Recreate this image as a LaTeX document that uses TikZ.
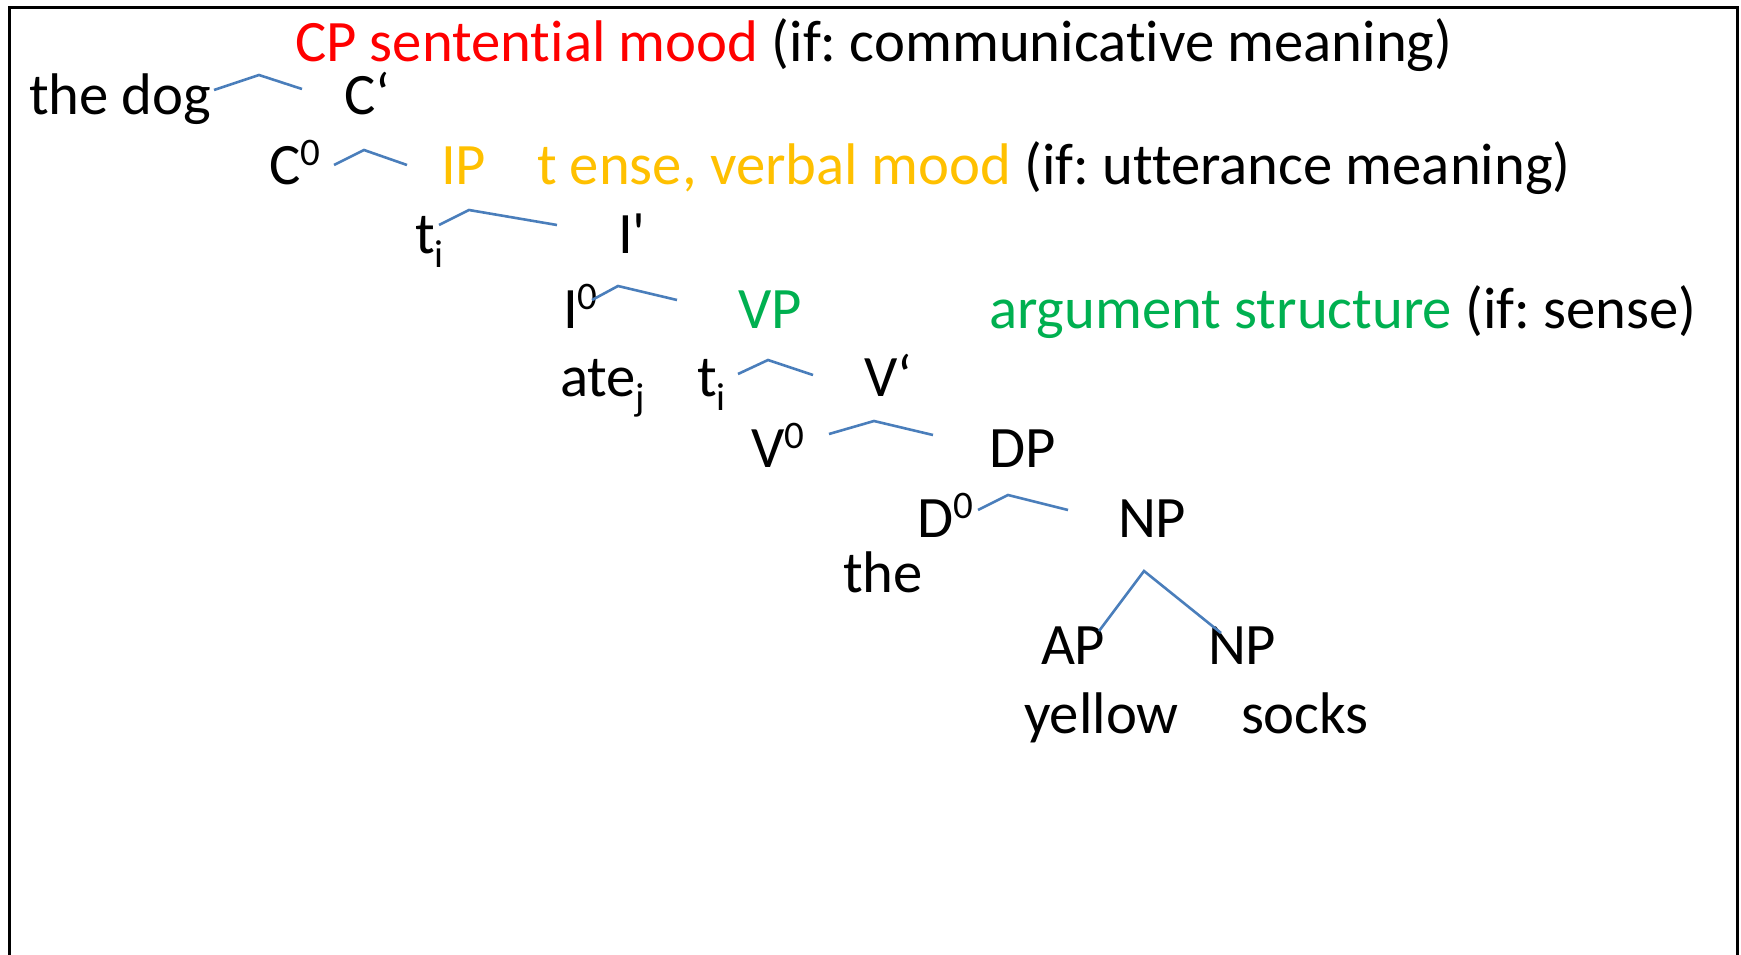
\documentclass[tikz,border=0pt]{standalone}
\usepackage{fontspec}
\setmainfont{Carlito}[Ligatures={NoCommon,TeXOff}]
\frenchspacing
\definecolor{cpred}{HTML}{FF0000}
\definecolor{iporange}{HTML}{FFC000}
\definecolor{vpgreen}{HTML}{00B050}
\definecolor{branch}{HTML}{4A7EBB}
\newcommand\supz[1]{\raisebox{19pt}{\fontsize{39}{39}\selectfont #1}}
\newcommand\subz[1]{\raisebox{-14pt}{\fontsize{39}{39}\selectfont #1}}
\begin{document}
\begin{tikzpicture}[x=1pt,y=-1pt,
  lbl/.style={anchor=base west,inner sep=0pt,outer sep=0pt,font=\fontsize{58.7}{68}\selectfont},
  br/.style={draw=branch,line width=2.6pt}]
\useasboundingbox (0,0) rectangle (1741,954);
\draw[line width=3pt] (9,1000) -- (9,7) -- (1737,7) -- (1737,1000);
% row 1
\node[lbl] (cp) at (295,61) {{\color{cpred}CP sentential mood} (if: communicative meaning)};
% row 2
\node[lbl] (dog) at (29,114) {the dog};
\node[lbl,text height=38pt] (cbar) at (344,114) {C‘};
% row 3
\node[lbl] (c0) at (269,184) {C\supz{0}};
\node[lbl] (ip) at (441,184) {\color{iporange}IP};
\node[lbl] (ipdesc) at (537,184) {{\color{iporange}t ense, verbal mood} (if: utterance meaning)};
% row 4
\node[lbl] (ti1) at (415,253) {t\subz{i}};
\node[lbl] (ibar) at (618,253) {I'};
% row 5
\node[lbl] (i0) at (563,328) {I\supz{0}};
\node[lbl] (vp) at (738,328) {\color{vpgreen}VP};
\node[lbl] (vpdesc) at (989,328) {{\color{vpgreen}argument structure} (if: sense)};
% row 6
\node[lbl] (ate) at (560,396) {ate\subz{j}};
\node[lbl] (ti2) at (697,396) {t\subz{i}};
\node[lbl] (vbar) at (864,396) {V‘};
% row 7
\node[lbl] (v0) at (751,467) {V\supz{0}};
\node[lbl] (dp) at (989,467) {DP};
% row 8
\node[lbl] (d0) at (917,537) {D\supz{0}};
\node[lbl] (np) at (1118,537) {NP};
% row 9
\node[lbl] (the) at (843,592) {the};
% row 10
\node[lbl] (ap) at (1041,664) {AP};
\node[lbl] (np2) at (1208,664) {NP};
% row 11
\node[lbl] (yellow) at (1024,733) {yellow};
\node[lbl] (socks) at (1241,733) {socks};
% branch points
\coordinate (b1l) at (214,90); \coordinate (b1a) at (259,75); \coordinate (b1r) at (302,89);
\coordinate (b2l) at (334,165); \coordinate (b2a) at (364,150); \coordinate (b2r) at (407,165);
\coordinate (b3l) at (439,225); \coordinate (b3a) at (469,210); \coordinate (b3r) at (557,225);
\coordinate (b4l) at (592,300); \coordinate (b4a) at (618,286); \coordinate (b4r) at (677,300);
\coordinate (b5l) at (738,374); \coordinate (b5a) at (768,360); \coordinate (b5r) at (813,375);
\coordinate (b6l) at (829,434); \coordinate (b6a) at (874,421); \coordinate (b6r) at (933,435);
\coordinate (b7l) at (978,510); \coordinate (b7a) at (1008,495); \coordinate (b7r) at (1068,510);
\coordinate (b8l) at (1099,631); \coordinate (b8a) at (1144,571); \coordinate (b8r) at (1221,633);
\draw[br] (b1l) -- (b1a) -- (b1r);
\draw[br] (b2l) -- (b2a) -- (b2r);
\draw[br] (b3l) -- (b3a) -- (b3r);
\draw[br] (b4l) -- (b4a) -- (b4r);
\draw[br] (b5l) -- (b5a) -- (b5r);
\draw[br] (b6l) -- (b6a) -- (b6r);
\draw[br] (b7l) -- (b7a) -- (b7r);
\draw[br] (b8l) -- (b8a) -- (b8r);
\end{tikzpicture}
\end{document}
